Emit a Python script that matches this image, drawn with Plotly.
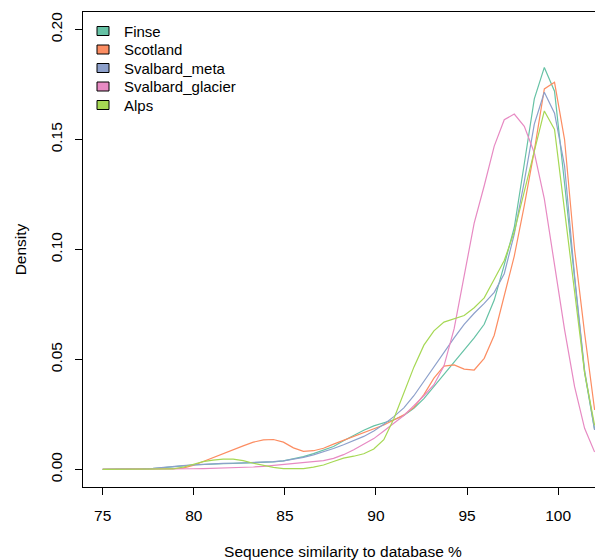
import plotly.graph_objects as go

similarity = [75.00, 75.55, 76.10, 76.65, 77.20, 77.76, 78.31, 78.86, 79.41, 79.96,
              80.51, 81.06, 81.61, 82.16, 82.71, 83.27, 83.82, 84.37, 84.92, 85.47,
              86.02, 86.57, 87.12, 87.67, 88.22, 88.78, 89.33, 89.88, 90.43, 90.98,
              91.53, 92.08, 92.63, 93.18, 93.73, 94.29, 94.84, 95.39, 95.94, 96.49,
              97.04, 97.59, 98.14, 98.69, 99.24, 99.80, 100.35, 100.90, 101.45, 102.00]

finse = [0, 0, 0, 0.0001, 0.0002, 0.0004, 0.0007, 0.0011, 0.0016, 0.0020,
         0.0023, 0.0025, 0.0026, 0.0027, 0.0028, 0.0029, 0.0031, 0.0034, 0.0039, 0.0047,
         0.0058, 0.0072, 0.0088, 0.0104, 0.0130, 0.0155, 0.0178, 0.0198, 0.0213, 0.0226,
         0.0245, 0.0278, 0.0322, 0.0378, 0.0432, 0.0487, 0.0543, 0.0598, 0.0660, 0.0770,
         0.0930, 0.1100, 0.1390, 0.1685, 0.1828, 0.1720, 0.1300, 0.0860, 0.0440, 0.0180]

scotland = [0, 0, 0, 0, 0.0001, 0.0002, 0.0003, 0.0004, 0.0006, 0.0018,
            0.0036, 0.0056, 0.0074, 0.0090, 0.0107, 0.0124, 0.0134, 0.0136, 0.0124, 0.0098,
            0.0082, 0.0085, 0.0096, 0.0115, 0.0132, 0.0150, 0.0166, 0.0183, 0.0202, 0.0225,
            0.0248, 0.0282, 0.0340, 0.0415, 0.0470, 0.0475, 0.0456, 0.0452, 0.0505, 0.0610,
            0.0790, 0.0970, 0.1200, 0.1450, 0.1730, 0.1760, 0.1500, 0.1000, 0.0620, 0.0270]

svalbard_meta = [0, 0, 0.0001, 0.0002, 0.0003, 0.0005, 0.0008, 0.0012, 0.0017, 0.0021,
                 0.0024, 0.0026, 0.0027, 0.0028, 0.0029, 0.0030, 0.0032, 0.0035, 0.0039, 0.0046,
                 0.0055, 0.0066, 0.0079, 0.0095, 0.0112, 0.0130, 0.0150, 0.0175, 0.0205, 0.0240,
                 0.0280, 0.0335, 0.0400, 0.0470, 0.0535, 0.0598, 0.0660, 0.0710, 0.0755, 0.0805,
                 0.0890, 0.1070, 0.1310, 0.1570, 0.1715, 0.1620, 0.1380, 0.0880, 0.0450, 0.0180]

svalbard_glacier = [0, 0, 0, 0, 0, 0, 0, 0.0001, 0.0002, 0.0003,
                    0.0004, 0.0005, 0.0006, 0.0007, 0.0009, 0.0011, 0.0014, 0.0018, 0.0021, 0.0025,
                    0.0029, 0.0034, 0.0040, 0.0050, 0.0067, 0.0089, 0.0113, 0.0140, 0.0175, 0.0210,
                    0.0245, 0.0290, 0.0335, 0.0385, 0.0470, 0.0640, 0.0880, 0.1120, 0.1290, 0.1470,
                    0.1590, 0.1616, 0.1560, 0.1440, 0.1230, 0.0930, 0.0636, 0.0376, 0.0187, 0.0079]

alps = [0, 0, 0, 0, 0, 0, 0, 0.0002, 0.0010, 0.0024,
        0.0035, 0.0042, 0.0047, 0.0047, 0.0040, 0.0028, 0.0017, 0.0009, 0.0004, 0.0003,
        0.0004, 0.0010, 0.0020, 0.0036, 0.0051, 0.0060, 0.0071, 0.0093, 0.0135, 0.0230,
        0.0350, 0.0465, 0.0565, 0.0630, 0.0670, 0.0686, 0.0700, 0.0735, 0.0780, 0.0865,
        0.0950, 0.1080, 0.1260, 0.1450, 0.1630, 0.1546, 0.1180, 0.0790, 0.0440, 0.0200]

series_names = ["Finse", "Scotland", "Svalbard_meta", "Svalbard_glacier", "Alps"]
series_values = [finse, scotland, svalbard_meta, svalbard_glacier, alps]
colors = ["#66C2A5", "#FC8D62", "#8DA0CB", "#E78AC3", "#A6D854"]

x_ticks = [75, 80, 85, 90, 95, 100]
y_ticks = [0.00, 0.05, 0.10, 0.15, 0.20]
y_tick_labels = ["0.00", "0.05", "0.10", "0.15", "0.20"]

FONT = "Liberation Sans, Arial, sans-serif"

# the page body has an 8px default margin, so the figure is offset by 8px
W, H = 595, 552
ML, MR, MT, MB = 75, 0, 4, 73
PW, PH = W - ML - MR, H - MT - MB
OFF = 8


def px_to_paper_x(px):
    return (px - OFF - ML) / PW


def px_to_paper_y(py):
    return (H - MB - (py - OFF)) / PH


fig = go.Figure()
for name, vals, col in zip(series_names, series_values, colors):
    fig.add_trace(go.Scatter(x=similarity, y=vals, mode="lines", name=name,
                             line=dict(color=col, width=1.2), showlegend=False,
                             hoverinfo="skip"))

# R-style legend (filled boxes with black border, no frame)
shapes = []
annotations = []
row0, row_step = 31.0, 18.5
for k, (name, col) in enumerate(zip(series_names, colors)):
    cy = row0 + k * row_step
    shapes.append(dict(type="rect", xref="paper", yref="paper",
                       x0=px_to_paper_x(97), x1=px_to_paper_x(109),
                       y0=px_to_paper_y(cy + 4.5), y1=px_to_paper_y(cy - 4.5),
                       fillcolor=col, line=dict(color="black", width=1)))
    annotations.append(dict(xref="paper", yref="paper", x=px_to_paper_x(122),
                            y=px_to_paper_y(cy), text=name, showarrow=False,
                            xanchor="left", yanchor="middle",
                            font=dict(family=FONT, size=15, color="black")))

fig.update_layout(
    width=W, height=H,
    margin=dict(l=ML, r=MR, t=MT, b=MB),
    paper_bgcolor="white", plot_bgcolor="white",
    font=dict(family=FONT, size=15, color="black"),
    showlegend=False,
    shapes=shapes, annotations=annotations,
)
fig.update_xaxes(range=[73.92, 102.46], tickvals=x_ticks, ticks="outside", ticklen=7,
                 tickcolor="black", showline=True, linecolor="black", linewidth=1,
                 mirror=True, showgrid=False, zeroline=False, automargin=False,
                 tickfont=dict(size=15.5), ticklabelstandoff=7,
                 title=dict(text="Sequence similarity to database %", standoff=23,
                            font=dict(size=15.5)))
fig.update_yaxes(range=[-0.008, 0.208], tickvals=y_ticks, ticktext=y_tick_labels,
                 tickangle=-90, ticks="outside", ticklen=7, tickcolor="black",
                 showline=True, linecolor="black", linewidth=1, showgrid=False,
                 zeroline=False, automargin=False, tickfont=dict(size=15.5),
                 ticklabelstandoff=7,
                 title=dict(text="Density", standoff=17, font=dict(size=15.5)))

fig.write_html("out.html")
